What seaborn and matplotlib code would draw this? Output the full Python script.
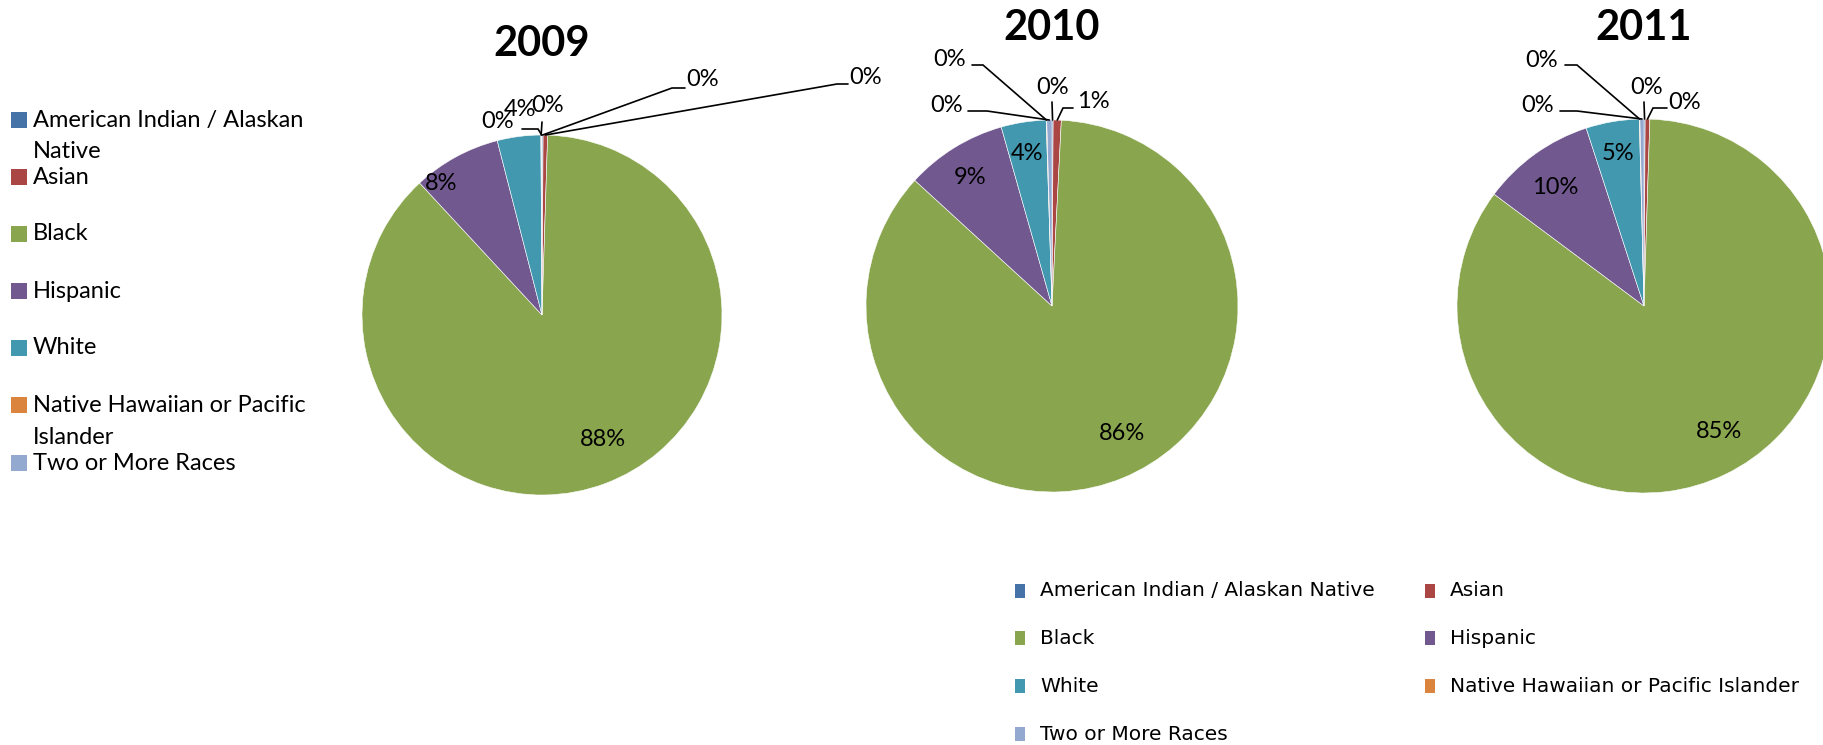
import matplotlib
matplotlib.use("Agg")
import matplotlib.pyplot as plt
import seaborn as sns
import numpy as np
from matplotlib.patches import Rectangle

# ---------------- data ----------------
categories = ["American Indian / Alaskan Native", "Asian", "Black", "Hispanic",
              "White", "Native Hawaiian or Pacific Islander", "Two or More Races"]
years = ["2009", "2010", "2011"]
share_2009 = [0.1, 0.4, 87.6, 7.9, 3.9, 0.05, 0.05]
share_2010 = [0.1, 0.7, 86.0, 8.8, 3.9, 0.05, 0.45]
share_2011 = [0.1, 0.4, 84.7, 9.8, 4.6, 0.05, 0.35]
shares = [share_2009, share_2010, share_2011]

colors = ["#4572A7", "#AA4643", "#89A54E", "#71588F", "#4198AF", "#DB843D", "#93A9CF"]

# ---------------- layout (pixels in 1823x745 canvas) ----------------
W, H = 1823, 745
pie_geom = {"2009": (542, 315, 180), "2010": (1052, 306, 186), "2011": (1644, 306, 187)}
title_pos = {"2009": (542, 44), "2010": (1052, 28), "2011": (1644, 28)}
label_pos = {
    "2009": [(703, 80), (866, 77), (603, 439), (441, 183), (520, 110), (548, 105), (498, 122)],
    "2010": [(1053, 87), (1093, 102), (1122, 434), (970, 178), (1027, 153), (950, 60), (947, 105)],
    "2011": [(1647, 87), (1685, 102), (1719, 432), (1555, 187), (1618, 153), (1542, 60), (1538, 105)],
}
leaders = {
    "2009": {0: [(672, 88), (685, 88)], 1: [(837, 84), (848, 84)], 5: [(542, 122)],
             6: [(538, 129), (522, 129)]},
    "2010": {0: [(1052, 102)], 1: [(1063, 108), (1073, 108)], 5: [(983, 65), (972, 65)],
             6: [(987, 111), (968, 111)]},
    "2011": {0: [(1644, 102)], 1: [(1653, 108), (1667, 108)], 5: [(1577, 65), (1565, 65)],
             6: [(1577, 111), (1560, 111)]},
}

sns.set_theme(style="white")
plt.rcParams["font.family"] = ["Lato", "DejaVu Sans"]
palette = sns.color_palette(colors)

fig = plt.figure(figsize=(W / 100, H / 100), dpi=100)
fig.patch.set_facecolor("white")

K = 1.6
for year, vals in zip(years, shares):
    cx, cy, r = pie_geom[year]
    ax = fig.add_axes([(cx - K * r) / W, (H - cy - K * r) / H, 2 * K * r / W, 2 * K * r / H])
    wedges, _ = ax.pie(vals, colors=palette, startangle=90, counterclock=False, radius=1,
                       wedgeprops=dict(edgecolor="white", linewidth=0.4))
    ax.set_xlim(-K, K)
    ax.set_ylim(-K, K)
    ax.set_aspect("equal")
    ax.axis("off")
    total = sum(vals)
    for i, (w, v) in enumerate(zip(wedges, vals)):
        px, py = label_pos[year][i]
        tx, ty = (px - cx) / r, (cy - py) / r
        ax.text(tx, ty, f"{100 * v / total:.0f}%", ha="center", va="center",
                fontsize=17, color="black")
        if i in leaders[year]:
            mid = np.deg2rad((w.theta1 + w.theta2) / 2)
            xs = [np.cos(mid)] + [(qx - cx) / r for qx, qy in leaders[year][i]]
            ys = [np.sin(mid)] + [(cy - qy) / r for qx, qy in leaders[year][i]]
            ax.plot(xs, ys, color="black", lw=1.2, clip_on=False, solid_joinstyle="miter")
    tx, ty = title_pos[year]
    fig.text(tx / W, 1 - ty / H, year, ha="center", va="center",
             fontsize=30, fontweight="bold", color="black")

# ---------------- left legend (Excel-like, wrapped labels) ----------------
left_labels = ["American Indian / Alaskan\nNative", "Asian", "Black", "Hispanic", "White",
               "Native Hawaiian or Pacific\nIslander", "Two or More Races"]
left_rows = [120, 177, 234, 291, 348, 405, 463]
for lab, yy, col in zip(left_labels, left_rows, palette):
    fig.add_artist(Rectangle((11 / W, 1 - (yy + 8) / H), 16 / W, 16 / H,
                             transform=fig.transFigure, facecolor=col, edgecolor="none"))
    for j, ln in enumerate(lab.split("\n")):
        fig.text(33 / W, 1 - (yy + 32 * j) / H, ln, ha="left", va="center",
                 fontsize=17, color="black")

# ---------------- bottom legend (two columns, row-major) ----------------
col_x = [1015, 1425]
row_y = [591, 638, 686, 734]
for i, (lab, col) in enumerate(zip(categories, palette)):
    x0 = col_x[i % 2]
    y0 = row_y[i // 2]
    fig.add_artist(Rectangle((x0 / W, 1 - (y0 + 7) / H), 10 / W, 14 / H,
                             transform=fig.transFigure, facecolor=col, edgecolor="none"))
    fig.text((x0 + 25) / W, 1 - y0 / H, lab, ha="left", va="center",
             fontsize=14.5, color="black", family=["DejaVu Sans"])

fig.savefig("out.png", dpi=100, facecolor="white")
